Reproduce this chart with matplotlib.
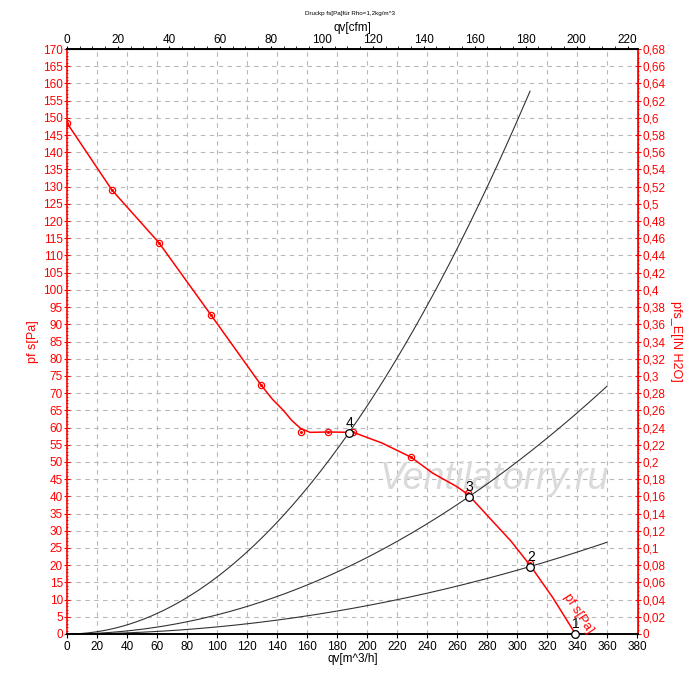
import matplotlib
matplotlib.use("Agg")
import matplotlib.pyplot as plt
from matplotlib.ticker import MultipleLocator, FuncFormatter
import numpy as np

plt.rcParams['font.family'] = ['Liberation Sans', 'DejaVu Sans']

# Fan curve (qv m^3/h, pfs Pa)
fan_q = [0, 30, 61.3, 96, 129.3, 137, 144, 150, 155.6, 162, 174, 190.9, 210, 229.3, 244, 260, 267.5, 282, 296, 308.7, 324, 339]
fan_p = [148.5, 129, 113.7, 92.7, 72.4, 68.2, 65.1, 62.0, 59.8, 58.6, 58.7, 58.6, 55.5, 51.4, 46.7, 42.8, 40.5, 33.6, 27.0, 20.0, 10.5, 0]
marker_q = [0, 30, 61.3, 96, 129.3, 156, 174, 190.9, 229.3, 267.5, 308.7]
marker_p = [148.5, 129, 113.7, 92.7, 72.4, 58.7, 58.7, 58.6, 51.4, 41.1, 20.5]

# Operating points (qv, pfs) and labels
op_q = [338.7, 308.7, 268, 188]
op_p = [0, 19.6, 39.9, 58.5]
op_labels = ['1', '2', '3', '4']

# System curves: end qv values
sys_end = [360, 360, 308.7]

fig = plt.figure(figsize=(7.0, 6.73), dpi=100)
ax = fig.add_axes([67/700, 39/673, 571/700, 585/673])
ax.set_xlim(0, 380.7)
ax.set_ylim(0, 170)

# grid
for x in range(20, 380, 20):
    ax.axvline(x, color='#b8b8b8', lw=0.8, ls=(0, (4, 4)), zorder=0)
for y in range(5, 170, 5):
    ax.axhline(y, color='#b8b8b8', lw=0.8, ls=(0, (4, 4)), zorder=0)

# system curves through operating points 2,3,4
for (q, p), qe in zip([(op_q[1], op_p[1]), (op_q[2], op_p[2]), (op_q[3], op_p[3])], sys_end):
    k = p / q**2
    xs = np.linspace(0, qe, 200)
    ax.plot(xs, k * xs**2, color='#333333', lw=0.8, zorder=2)

# fan curve
ax.plot(fan_q, fan_p, color='red', lw=1.1, zorder=3)
ax.plot(marker_q, marker_p, ls='none', marker='o', ms=4.5, mfc='none', mec='red', mew=0.9, zorder=4)
ax.plot(marker_q, marker_p, ls='none', marker='o', ms=1.2, mfc='red', mec='red', zorder=4)

# operating points
ax.plot(op_q, op_p, ls='none', marker='o', ms=5.5, mfc='white', mec='black', mew=0.9, zorder=5, clip_on=False)
for q, p, lab in zip(op_q, op_p, op_labels):
    ax.text(q + 0.5, p + 0.8, lab, fontsize=10, color='black', ha='center', va='bottom', zorder=6)

ax.text(341, 6, 'pf s[Pa]', color='red', fontsize=9.5, rotation=-57, ha='center', va='center', zorder=6)

# watermark
ax.text(285, 45, 'Ventilatorry.ru', fontsize=27, color='#dadada', style='italic',
        ha='center', va='center', zorder=1)

# axes formatting
ax.set_xticks(np.arange(0, 381, 20))
ax.yaxis.set_major_locator(MultipleLocator(5))
ax.yaxis.set_minor_locator(MultipleLocator(1))
ax.tick_params(axis='x', labelsize=8.5, length=3, colors='black', pad=2)
ax.tick_params(axis='y', which='major', labelsize=8.5, colors='red', length=4, direction='inout', pad=1)
ax.tick_params(axis='y', which='minor', colors='red', length=2, direction='inout')
ax.spines['left'].set_color('red')
ax.spines['right'].set_color('red')
ax.spines['left'].set_linewidth(1.2)
ax.spines['right'].set_linewidth(1.2)
ax.spines['bottom'].set_linewidth(1.4)
ax.spines['top'].set_linewidth(1.4)
ax.set_xlabel('qv[m^3/h]', fontsize=8.5, labelpad=0)
ax.set_ylabel('pf s[Pa]', fontsize=9, color='red', labelpad=3)

# top axis (cfm)
top = ax.secondary_xaxis('top', functions=(lambda x: x * 0.5886, lambda c: c / 0.5886))
top.set_xticks(np.arange(0, 221, 20))
top.xaxis.set_minor_locator(MultipleLocator(5))
top.tick_params(labelsize=8.5, length=2, pad=0)
top.tick_params(which='minor', length=2)
top.set_xlabel('qv[cfm]', fontsize=8.5, labelpad=2.5)

# right axis (in H2O)
right = ax.secondary_yaxis('right', functions=(lambda p: p / 250.0, lambda w: w * 250.0))
right.set_yticks(np.round(np.arange(0, 0.681, 0.02), 2))
right.yaxis.set_minor_locator(MultipleLocator(0.005))
right.yaxis.set_major_formatter(FuncFormatter(lambda v, pos: ('%g' % round(v, 2)).replace('.', ',')))
right.tick_params(which='major', labelsize=8.5, colors='red', length=4, direction='inout', pad=1)
right.tick_params(which='minor', colors='red', length=2, direction='inout')
right.spines['right'].set_color('red')
right.set_ylabel('pfs_E[IN H2O]', fontsize=9, color='red', rotation=270, labelpad=12)

fig.text(350/700, 1 - 13/673, 'Druckp fs[Pa]für Rho=1,2kg/m^3', fontsize=4.5, ha='center', va='center')

fig.savefig('out.png', dpi=100)
